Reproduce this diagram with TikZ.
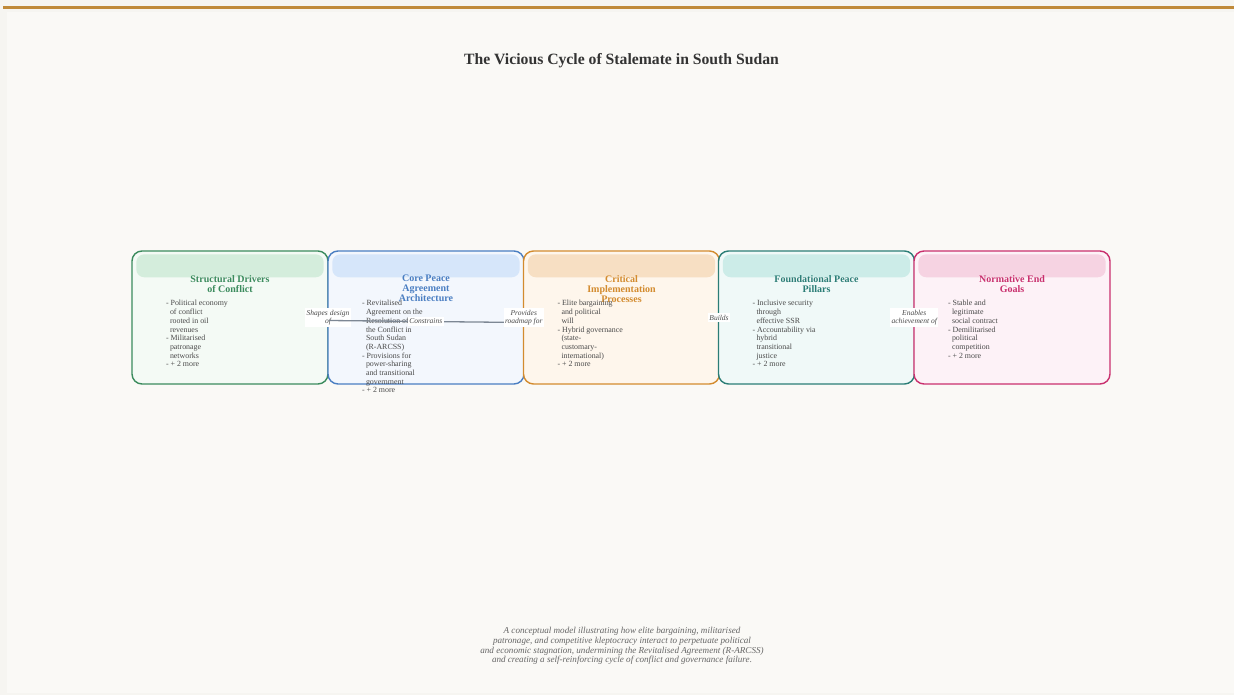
\documentclass[tikz,border=0pt]{standalone}
\usepackage{fontspec}
\setmainfont{Liberation Serif}
\usetikzlibrary{positioning,calc,backgrounds}
\definecolor{pagebg}{HTML}{F6F5F1}
\definecolor{panelbg}{HTML}{FAF9F6}
\definecolor{goldbar}{HTML}{C08A3A}
\definecolor{inkdark}{HTML}{333333}
\definecolor{inkbody}{HTML}{4A4A4A}
\definecolor{inkcap}{HTML}{666666}
\definecolor{linkgray}{HTML}{7D8794}
% stage colours: border, band, fill
\definecolor{grn}{HTML}{3B8B5D}
\definecolor{grnband}{HTML}{D4EDDC}
\definecolor{grnfill}{HTML}{F4FAF5}
\definecolor{blu}{HTML}{4A7EC2}
\definecolor{bluband}{HTML}{D6E6FA}
\definecolor{blufill}{HTML}{F3F7FD}
\definecolor{org}{HTML}{D38B2E}
\definecolor{orgband}{HTML}{F7DFC3}
\definecolor{orgfill}{HTML}{FEF6EC}
\definecolor{tea}{HTML}{2B7D76}
\definecolor{teaband}{HTML}{CCECE8}
\definecolor{teafill}{HTML}{F0F9F8}
\definecolor{pnk}{HTML}{C9306E}
\definecolor{pnkband}{HTML}{F6D3E2}
\definecolor{pnkfill}{HTML}{FDF2F7}
\newcommand{\cl}{\hspace*{4pt}}
\tikzset{
  stagebox/.style={draw=#1, fill=#1fill, rounded corners=10pt, line width=1.4pt,
    minimum width=196pt, minimum height=133pt, inner sep=0pt},
  stagehead/.style={font=\bfseries\fontsize{10}{10}\selectfont, align=center,
    inner sep=0pt, anchor=north},
  bullets/.style={font=\fontsize{7.9}{8.7}\selectfont, text=inkbody, align=left,
    inner sep=0pt, anchor=north west},
  link/.style={draw=linkgray, line width=1.3pt},
  elabel/.style={font=\itshape\fontsize{7.5}{8.5}\selectfont, text=inkbody,
    fill=white, align=center, inner sep=1.5pt},
  caphead/.style={font=\bfseries\fontsize{15.7}{18}\selectfont, text=inkdark},
  note/.style={font=\itshape\fontsize{9.1}{9.7}\selectfont, text=inkcap, align=center},
}

\begin{document}
\begin{tikzpicture}[x=1pt,y=-1pt]
  \useasboundingbox (0,0) rectangle (1234,695);
  \fill[pagebg] (0,0) rectangle (1234,695);
  \fill[panelbg] (7,12) rectangle (1234,693);
  \fill[goldbar] (3,6) rectangle (1234,9);
  \node[caphead] (title) at (621.5,61) {The Vicious Cycle of Stalemate in South Sudan};
  % the five stages
  \foreach \n/\cx/\col/\head/\items in {
      1/230/grn/{Structural Drivers\\of Conflict}/{- Political economy\\\cl of conflict\\\cl rooted in oil\\\cl revenues\\- Militarised\\\cl patronage\\\cl networks\\- + 2 more},
      2/426/blu/{Core Peace\\Agreement\\Architecture}/{- Revitalised\\\cl Agreement on the\\\cl Resolution of\\\cl the Conflict in\\\cl South Sudan\\\cl (R-ARCSS)\\- Provisions for\\\cl power-sharing\\\cl and transitional\\\cl government\\- + 2 more},
      3/621.5/org/{Critical\\Implementation\\Processes}/{- Elite bargaining\\\cl and political\\\cl will\\- Hybrid governance\\\cl (state-\\\cl customary-\\\cl international)\\- + 2 more},
      4/816.5/tea/{Foundational Peace\\Pillars}/{- Inclusive security\\\cl through\\\cl effective SSR\\- Accountability via\\\cl hybrid\\\cl transitional\\\cl justice\\- + 2 more},
      5/1012/pnk/{Normative End\\Goals}/{- Stable and\\\cl legitimate\\\cl social contract\\- Demilitarised\\\cl political\\\cl competition\\- + 2 more}} {
    \node[stagebox=\col] (b\n) at (\cx,317.5) {};
    \fill[\col band, rounded corners=8pt] ([xshift=5pt,yshift=-4pt]b\n.north west)
      rectangle ([xshift=-5pt,yshift=-27pt]b\n.north east);
    \node[stagehead, text=\col] (h\n) at (\cx,275) {\head};
    \node[bullets] (t\n) at ([xshift=34.5pt,yshift=-50pt]b\n.north west) {\items};
  }
  % connectors
  \draw[link] (b1) -- node[elabel] {Shapes design\\of} (b2);
  \draw[link] ([yshift=-3pt]b1.east) -- node[elabel, pos=0.5] {Constrains} ([yshift=-5pt]b3.west);
  \draw[link] (b2) -- node[elabel] {Provides\\roadmap for} (b3);
  \draw[link] (b3) -- node[elabel] {Builds} (b4);
  \draw[link] (b4) -- node[elabel] {Enables\\achievement of} (b5);
  \node[note] (caption) at (622,646) {A conceptual model illustrating how elite bargaining, militarised\\
    patronage, and competitive kleptocracy interact to perpetuate political\\
    and economic stagnation, undermining the Revitalised Agreement (R-ARCSS)\\
    and creating a self-reinforcing cycle of conflict and governance failure.};
\end{tikzpicture}
\end{document}
